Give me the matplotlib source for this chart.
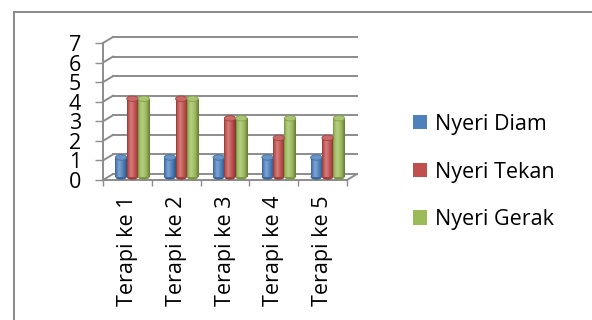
import numpy as np
import matplotlib
matplotlib.use("Agg")
import matplotlib.pyplot as plt
from matplotlib.patches import Rectangle, Ellipse
from matplotlib.lines import Line2D
from matplotlib.colors import to_rgb

categories = ["Terapi ke 1", "Terapi ke 2", "Terapi ke 3", "Terapi ke 4", "Terapi ke 5"]
series_names = ["Nyeri Diam", "Nyeri Tekan", "Nyeri Gerak"]
nyeri_diam = [1, 1, 1, 1, 1]
nyeri_tekan = [4, 4, 3, 2, 2]
nyeri_gerak = [4, 4, 3, 3, 3]
y_ticks = [0, 1, 2, 3, 4, 5, 6, 7]

colors = ["#4F81BD", "#C0504D", "#9BBB59"]
grid_color = "#8C8C8C"
font = "Open Sans"

plt.rcParams["font.family"] = [font, "DejaVu Sans"]

W, H = 592, 320
fig = plt.figure(figsize=(W / 100, H / 100), dpi=100)
# front plane of the plot area, in pixels: x 103..347, y 43..180
ax = fig.add_axes([103 / W, (H - 180) / H, 244 / W, 137 / H])
ax.set_xlim(-0.5, 4.5)
ax.set_ylim(0, 7)

# depth of the pseudo-3D box, in data units
depth_x = 10 / (244 / 5)
depth_y = 6 / (137 / 7)

# back wall gridlines and side-wall diagonals
for y in y_ticks:
    ax.plot([-0.5, -0.5 + depth_x], [y, y + depth_y], color=grid_color, lw=1.4,
            clip_on=False, zorder=1)
    ax.plot([-0.5 + depth_x, 4.5 + depth_x], [y + depth_y, y + depth_y],
            color=grid_color, lw=1.4, clip_on=False, zorder=1)
# right edge of the floor
ax.plot([4.5, 4.5 + depth_x], [0, depth_y], color=grid_color, lw=1.4,
        clip_on=False, zorder=1)


def shade(rgb, k):
    rgb = np.array(rgb)
    if k >= 0:
        return rgb + (1 - rgb) * k
    return rgb * (1 + k)


def cylinder(x, h, width, base, color):
    rgb = to_rgb(color)
    body = Rectangle((x - width / 2, base), width, h, facecolor=color,
                     edgecolor="none", zorder=3)
    ax.add_patch(body)
    # horizontal shading across the cylinder
    prof = np.linspace(0, 1, 64)
    k = np.interp(prof, [0, 0.12, 0.35, 0.7, 1.0], [-0.25, 0.0, 0.28, -0.02, -0.35])
    grad = np.array([shade(rgb, kk) for kk in k])[None, :, :]
    im = ax.imshow(grad, extent=[x - width / 2, x + width / 2, base - 0.14, base + h],
                   aspect="auto", zorder=3, interpolation="bilinear")
    im.set_clip_path(body)
    # rounded bottom and top cap
    bottom = Ellipse((x, base), width, 0.28, facecolor=shade(rgb, -0.2),
                     edgecolor="none", zorder=2.9)
    ax.add_patch(bottom)
    top = Ellipse((x, base + h), width, 0.28, facecolor=shade(rgb, 0.15),
                  edgecolor=shade(rgb, -0.15), lw=0.6, zorder=4)
    ax.add_patch(top)


bar_w = 0.232
xs = np.arange(len(categories))
center = xs + depth_x / 2
base = depth_y / 2
for j, vals in enumerate([nyeri_diam, nyeri_tekan, nyeri_gerak]):
    for i, v in enumerate(vals):
        cylinder(center[i] + (j - 1) * bar_w, v, bar_w, base, colors[j])

ax.set_xlim(-0.5, 4.5)
ax.set_ylim(0, 7)

for s in ["top", "right"]:
    ax.spines[s].set_visible(False)
for s in ["left", "bottom"]:
    ax.spines[s].set_color(grid_color)
    ax.spines[s].set_linewidth(1.4)

ax.set_yticks(y_ticks)
ax.set_yticklabels([str(t) for t in y_ticks], fontsize=15.5)
ax.tick_params(axis="y", length=5.8, width=1.0, color=grid_color, pad=10)

ax.set_xticks(xs)
ax.set_xticklabels(categories, rotation=90, fontsize=15.5)
ax.set_xticks(np.arange(-0.5, 5.0, 1.0), minor=True)
ax.tick_params(axis="x", which="major", length=0, pad=11)
ax.tick_params(axis="x", which="minor", length=4.5, width=1.0, color=grid_color)

handles = [Rectangle((0, 0), 1, 1, facecolor=c, edgecolor="none") for c in colors]
fig.legend(handles, series_names, loc="upper left",
           bbox_to_anchor=(404 / W, (H - 105) / H), frameon=False,
           fontsize=15.5, handlelength=0.68, handleheight=0.68,
           handletextpad=0.35, labelspacing=1.25, borderaxespad=0)

# chart area border
fig.add_artist(Line2D([14 / W, 14 / W], [0, (H - 12) / H], color="#8A8A8A", lw=1.4,
                      transform=fig.transFigure))
fig.add_artist(Line2D([14 / W, 1], [(H - 12) / H, (H - 12) / H], color="#8A8A8A",
                      lw=1.4, transform=fig.transFigure))

fig.savefig("out.png", dpi=100)
